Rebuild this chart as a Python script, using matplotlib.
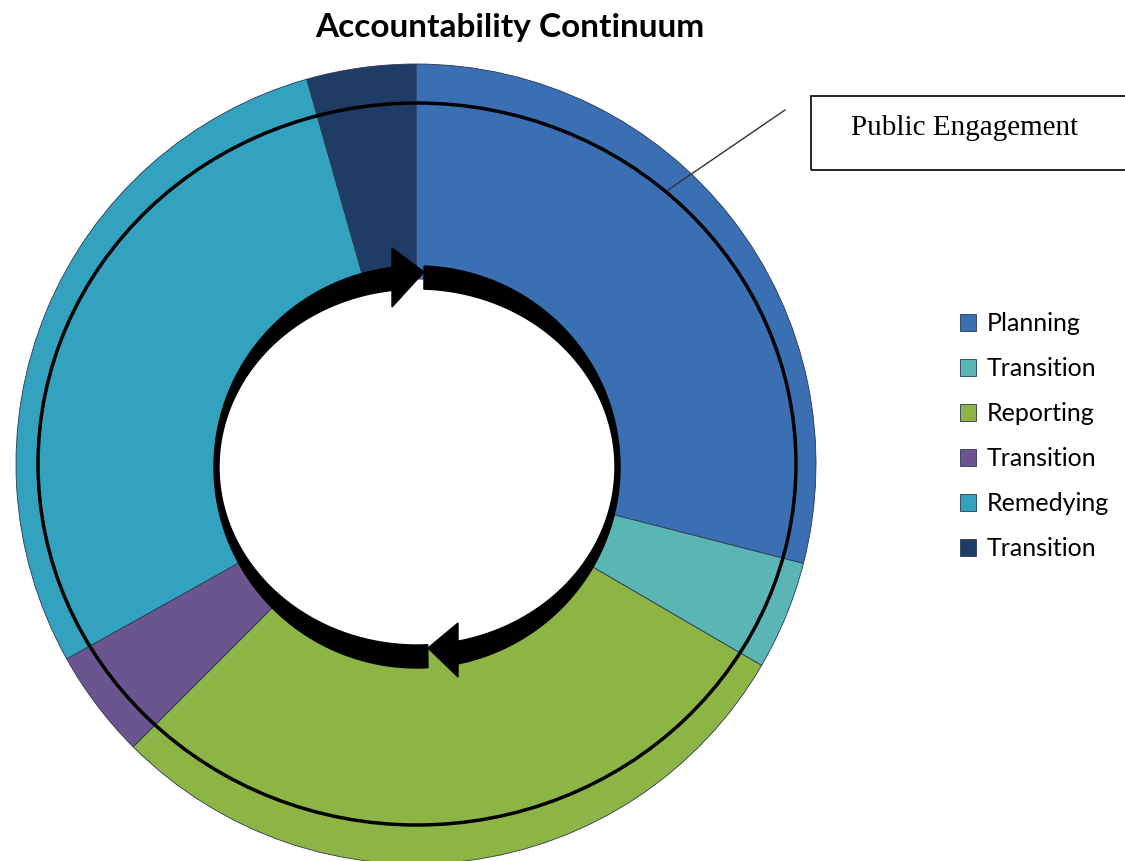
import numpy as np
import matplotlib
matplotlib.use('Agg')
import matplotlib.pyplot as plt
from matplotlib.patches import Polygon, Ellipse, Rectangle

# slice data, clockwise from 12 o'clock
labels = ['Planning', 'Transition', 'Reporting', 'Transition', 'Remedying', 'Transition']
values = [29.0, 4.4, 29.1, 4.4, 28.7, 4.4]
colors = ['#3a6fb3', '#5ab5b5', '#8db545', '#6a5590', '#33a2bf', '#1f3c66']

W, H = 1125, 861


def px(x, y):
    # pixel coords (y down) -> data coords
    return (x, H - y)


fig = plt.figure(figsize=(W / 100, H / 100), dpi=100)
ax = fig.add_axes([0, 0, 1, 1])

cx, cy = 416, 464
wedges, _ = ax.pie(values, colors=colors, startangle=90, counterclock=False,
                   center=px(cx, cy), radius=400,
                   wedgeprops=dict(width=215, edgecolor='#2a3a50', linewidth=0.6))
ax.set_xlim(0, W)
ax.set_ylim(0, H)
ax.set_aspect('auto')
ax.axis('off')

# thin ring over the donut
ax.add_patch(Ellipse(px(417, 464), 758, 722, fill=False, edgecolor='black', lw=2.5, zorder=5))

# white hole
ax.add_patch(Ellipse(px(417, 467), 396, 356, facecolor='white', edgecolor='none', zorder=4))

# circular arrows around the hole
rcx, rcy = 417, 467


def band(t0, t1):
    t = np.radians(np.linspace(t0, t1, 200))
    outer = [px(rcx + 203 * np.cos(a), rcy + 201 * np.sin(a)) for a in t]
    inner = [px(rcx + 198 * np.cos(a), rcy + 178 * np.sin(a)) for a in t[::-1]]
    return outer + inner


ax.add_patch(Polygon(band(86.9, 262.9), closed=True, color='black', zorder=6))
ax.add_patch(Polygon(band(272.0, 438.3), closed=True, color='black', zorder=6))
ax.add_patch(Polygon([px(392, 248), px(424, 272), px(392, 307)], closed=True, color='black', zorder=6))
ax.add_patch(Polygon([px(458, 623), px(428, 648), px(458, 677)], closed=True, color='black', zorder=6))

# callout
ax.plot([668, 785], [H - 190, H - 110], color='#333333', lw=1, zorder=7)
ax.add_patch(Rectangle(px(811, 170), 340, 74, fill=False, edgecolor='black', lw=1.2, zorder=7))
ax.text(851, H - 128, 'Public Engagement', family='Liberation Serif', fontsize=21,
        ha='left', va='center', zorder=8)

# title
fig.text(510 / W, 1 - 28 / H, 'Accountability Continuum', family='Lato', fontweight='bold',
         fontsize=24, ha='center', va='center')

# legend
leg = ax.legend(wedges, labels, loc='center left', bbox_to_anchor=(960 / W, 1 - 436 / H),
                frameon=False, prop={'family': 'Lato', 'size': 18},
                handlelength=0.65, handleheight=0.65, handletextpad=0.4,
                labelspacing=0.88, borderpad=0, borderaxespad=0)

plt.savefig('out.png', dpi=100)
